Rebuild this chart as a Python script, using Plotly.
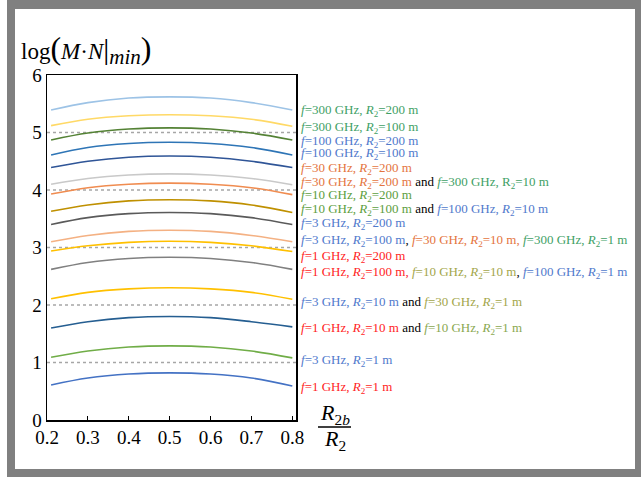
import plotly.graph_objects as go

# ---------------- data ----------------
ratio_x = [0.21, 0.3, 0.4, 0.5, 0.6, 0.7, 0.8]

f300_R200 = [5.39, 5.52, 5.60, 5.62, 5.60, 5.52, 5.39]
f300_R100 = [5.12, 5.23, 5.29, 5.31, 5.29, 5.23, 5.11]
f100_R200 = [4.87, 4.99, 5.06, 5.08, 5.06, 4.99, 4.87]
f100_R100 = [4.61, 4.74, 4.81, 4.83, 4.81, 4.74, 4.61]
f30_R200 = [4.39, 4.50, 4.57, 4.59, 4.57, 4.50, 4.39]
f30_R100 = [4.10, 4.20, 4.26, 4.28, 4.26, 4.20, 4.09]
f10_R200 = [3.93, 4.04, 4.10, 4.12, 4.10, 4.04, 3.92]
f10_R100 = [3.63, 3.74, 3.81, 3.83, 3.81, 3.74, 3.61]
f3_R200 = [3.40, 3.52, 3.59, 3.61, 3.59, 3.52, 3.40]
f3_R100 = [3.10, 3.21, 3.28, 3.30, 3.28, 3.21, 3.10]
f1_R200 = [2.94, 3.03, 3.09, 3.11, 3.09, 3.03, 2.93]
f1_R100 = [2.62, 2.74, 2.81, 2.83, 2.81, 2.74, 2.62]
f3_R10 = [2.11, 2.22, 2.28, 2.30, 2.28, 2.22, 2.10]
f1_R10 = [1.60, 1.71, 1.78, 1.80, 1.78, 1.71, 1.62]
f3_R1 = [1.09, 1.20, 1.27, 1.29, 1.27, 1.20, 1.08]
f1_R1 = [0.61, 0.73, 0.80, 0.82, 0.80, 0.73, 0.59]

series = [f300_R200, f300_R100, f100_R200, f100_R100, f30_R200, f30_R100,
          f10_R200, f10_R100, f3_R200, f3_R100, f1_R200, f1_R100,
          f3_R10, f1_R10, f3_R1, f1_R1]

line_colors = ["#9dc3e6", "#ffd966", "#548235", "#2e75b6", "#2f5597", "#c9c9c9",
               "#f08c50", "#bf9000", "#5a5a5a", "#f4b183", "#ffc000", "#808080",
               "#ffc000", "#255e91", "#70ad47", "#4472c4"]

y_ticks = [0, 1, 2, 3, 4, 5, 6]
x_ticks = [0.2, 0.3, 0.4, 0.5, 0.6, 0.7, 0.8]
grid_levels = [1, 2, 3, 4, 5]

# label vertical positions (data units) beside the right edge
label_y = [5.383, 5.094, 4.843, 4.630, 4.381, 4.137, 3.899, 3.656, 3.412,
           3.122, 2.843, 2.572, 2.050, 1.598, 1.035, 0.572]

C300 = "#3f9f66"
C100 = "#5079cc"
C30 = "#e4743e"
C10 = "#5c9e3e"
COL = "#a3a64a"
COG = "#8aa850"
C3 = "#5079cc"
C1 = "#ff2424"


def lab(f, r, italic_r=True):
    R = "<i>R</i>" if italic_r else "R"
    return f"<i>f</i>={f} GHz, {R}<sub>2</sub>={r} m"


def sp(txt, col):
    return f"<span style='color:{col}'>{txt}</span>"


label_texts = [
    sp(lab(300, 200), C300),
    sp(lab(300, 100), C300),
    sp(lab(100, 200), C100),
    sp(lab(100, 100), C100),
    sp(lab(30, 200), C30),
    sp(lab(30, 200), C30) + " and " + sp(lab(300, 10, False), C300),
    sp(lab(10, 200), C10),
    sp(lab(10, 100), C10) + " and " + sp(lab(100, 10), C100),
    sp(lab(3, 200), C3),
    sp(lab(3, 100), C3) + ", " + sp(lab(30, 10) + ",", C30) + " " + sp(lab(300, 1), C300),
    sp(lab(1, 200), C1),
    sp(lab(1, 100) + ",", C1) + " " + sp(lab(10, 10), COL) + ", " + sp(lab(100, 1), C100),
    sp(lab(3, 10), C3) + " and " + sp(lab(30, 1), COL),
    sp(lab(1, 10), C1) + " and " + sp(lab(10, 1), COG),
    sp(lab(3, 1), C3),
    sp(lab(1, 1), C1),
]

# ---------------- layout geometry ----------------
W, H = 641, 477
L, R, T, B = 47, 296, 75, 420


def px(xp):
    return (xp - L) / (R - L)


def py(yp):
    return (B - yp) / (B - T)


SERIF = "Liberation Serif"

fig = go.Figure()
for ys, c in zip(series, line_colors):
    fig.add_trace(go.Scatter(x=ratio_x, y=ys, mode="lines",
                             line=dict(color=c, width=1.6, shape="spline", smoothing=1.0),
                             showlegend=False, hoverinfo="skip"))

shapes = []
for g in grid_levels:
    shapes.append(dict(type="line", xref="paper", yref="y", x0=0, x1=1.004, y0=g, y1=g,
                       line=dict(color="#a6a6a6", width=1.4, dash="3px,3px"), layer="below"))

# grey frame around the picture
gray = "#808080"
for (x0, y0, x1, y1) in [(7, 0, 15, 477), (7, 0, 641, 9), (635, 0, 641, 477), (7, 469, 641, 477)]:
    shapes.append(dict(type="rect", xref="paper", yref="paper",
                       x0=px(x0), x1=px(x1), y0=py(y1), y1=py(y0),
                       fillcolor=gray, line=dict(width=0), layer="above"))

# fraction bar of x-axis title
shapes.append(dict(type="line", xref="paper", yref="paper", x0=px(318), x1=px(351),
                   y0=py(427), y1=py(427), line=dict(color="black", width=1.3)))

annotations = []
for yv, txt in zip(label_y, label_texts):
    annotations.append(dict(xref="paper", yref="y", x=px(299), y=yv, text=txt,
                            showarrow=False, xanchor="left", yanchor="middle",
                            font=dict(family=SERIF, size=13, color="black")))

annotations.append(dict(xref="paper", yref="paper", x=px(19), y=py(50),
                        text="log<span style='font-size:32px'>(</span><i>M</i>·<i>N</i>"
                             "<span style='font-size:30px'>|</span>"
                             "<sub><span style='font-size:21px'><i>min</i></span></sub>"
                             "<span style='font-size:32px'>)</span>",
                        showarrow=False, xanchor="left", yanchor="middle",
                        font=dict(family=SERIF, size=23, color="black")))
annotations.append(dict(xref="paper", yref="paper", x=px(334.5), y=py(414),
                        text="<i>R</i><sub>2<i>b</i></sub>", showarrow=False,
                        xanchor="center", yanchor="middle",
                        font=dict(family=SERIF, size=22, color="black")))
annotations.append(dict(xref="paper", yref="paper", x=px(334.5), y=py(440),
                        text="<i>R</i><sub>2</sub>", showarrow=False,
                        xanchor="center", yanchor="middle",
                        font=dict(family=SERIF, size=22, color="black")))

fig.update_layout(
    width=W, height=H,
    margin=dict(l=L, r=W - R, t=T, b=H - B, pad=0, autoexpand=False),
    paper_bgcolor="white", plot_bgcolor="white",
    shapes=shapes, annotations=annotations,
    xaxis=dict(range=[0.2, 0.809], tickvals=x_ticks, ticktext=[f"{v:.1f}" for v in x_ticks],
               ticks="inside", ticklen=4, tickcolor="black", tickwidth=1.2,
               showline=True, linecolor="black", linewidth=1.5, mirror=True,
               showgrid=False, zeroline=False, automargin=False,
               tickfont=dict(family=SERIF, size=19, color="black")),
    yaxis=dict(range=[0, 6], tickvals=y_ticks, ticks="", ticklen=0,
               showline=True, linecolor="black", linewidth=1.5, mirror=True,
               showgrid=False, zeroline=False, automargin=False,
               tickfont=dict(family=SERIF, size=19, color="black")),
)

fig.write_html("out.html", config={"displayModeBar": False, "staticPlot": True},
               post_script="document.body.style.margin='0';document.body.style.overflow='hidden';")
